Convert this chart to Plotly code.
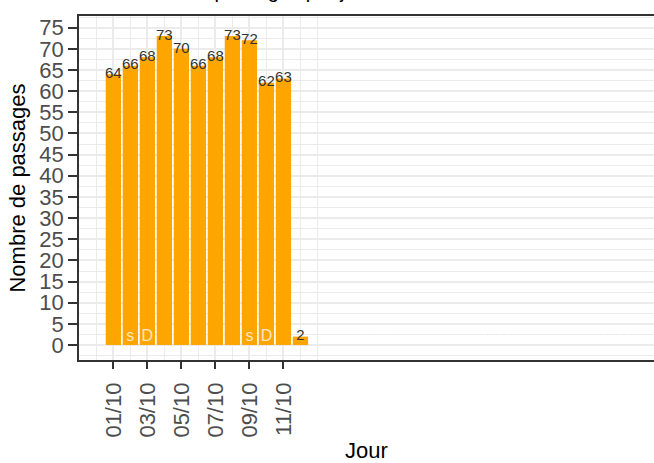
import plotly.graph_objects as go

# ---- data ----
jours = ["2021-10-01", "2021-10-02", "2021-10-03", "2021-10-04", "2021-10-05", "2021-10-06",
         "2021-10-07", "2021-10-08", "2021-10-09", "2021-10-10", "2021-10-11", "2021-10-12"]
passages = [64, 66, 68, 73, 70, 66, 68, 73, 72, 62, 63, 2]

weekend_jours = ["2021-10-02", "2021-10-03", "2021-10-09", "2021-10-10", "2021-10-16", "2021-10-17",
                 "2021-10-23", "2021-10-24", "2021-10-30", "2021-10-31"]
weekend_lettres = ["s", "D", "s", "D", "s", "D", "s", "D", "s", "D"]

tick_jours = ["2021-10-01", "2021-10-03", "2021-10-05", "2021-10-07", "2021-10-09", "2021-10-11"]
tick_labels = ["01/10", "03/10", "05/10", "07/10", "09/10", "11/10"]
minor_jours = ["2021-09-30", "2021-10-02", "2021-10-04", "2021-10-06", "2021-10-08",
               "2021-10-10", "2021-10-12", "2021-10-13"]

titre = "Nombre de passages par jour"

FONT = "Liberation Sans, Arial, sans-serif"
DAY_MS = 86400000

fig = go.Figure()
fig.add_bar(x=jours, y=passages, width=0.9 * DAY_MS,
            marker=dict(color="#FFA500", line=dict(width=0)))
fig.add_scatter(x=jours, y=passages, mode="text", text=[str(v) for v in passages],
                textposition="middle center",
                textfont=dict(family=FONT, size=15, color="#333333"))
fig.add_scatter(x=weekend_jours, y=[0] * len(weekend_jours), mode="text", text=weekend_lettres,
                textposition="top center",
                textfont=dict(family=FONT, size=16, color="rgba(255,255,255,0.75)"))

fig.add_annotation(text=titre, xref="paper", yref="paper", x=0.05, y=1.036,
                   xanchor="left", yanchor="bottom", showarrow=False,
                   font=dict(family=FONT, size=20, color="black"))

fig.update_layout(
    width=654, height=463,
    margin=dict(l=79, r=0, t=16, b=103),
    plot_bgcolor="white", paper_bgcolor="white",
    showlegend=False,
    font=dict(family=FONT),
)
fig.update_xaxes(
    type="date", automargin=False,
    range=["2021-09-28 23:30", "2021-11-01 19:00"],
    tickmode="array", tickvals=tick_jours, ticktext=tick_labels, tickangle=-90,
    ticks="outside", ticklen=7, tickwidth=1.5, tickcolor="#333333", ticklabelstandoff=5,
    tickfont=dict(family=FONT, size=22, color="#4D4D4D"),
    showline=True, linecolor="#333333", linewidth=1.5, mirror=True,
    showgrid=True, gridcolor="#EBEBEB", gridwidth=1.5, zeroline=False,
    minor=dict(tickmode="array", tickvals=minor_jours, showgrid=True,
               gridcolor="#EBEBEB", gridwidth=1, ticks=""),
    title=dict(text="Jour", font=dict(family=FONT, size=22, color="black"), standoff=14),
)
fig.update_yaxes(
    automargin=False,
    range=[-3.53, 77.75],
    tickmode="linear", tick0=0, dtick=5,
    ticks="outside", ticklen=9, tickwidth=1.5, tickcolor="#333333",
    tickfont=dict(family=FONT, size=22, color="#4D4D4D"),
    showline=True, linecolor="#333333", linewidth=1.5, mirror=False,
    showgrid=True, gridcolor="#EBEBEB", gridwidth=1.5, zeroline=False,
    minor=dict(tick0=0, dtick=2.5, showgrid=True, gridcolor="#EBEBEB", gridwidth=1, ticks=""),
    title=dict(text="Nombre de passages", font=dict(family=FONT, size=22, color="black"), standoff=8),
)

fig.write_html("out.html", config={"displayModeBar": False},
               post_script="document.body.style.margin='0';document.body.style.overflow='hidden';")
